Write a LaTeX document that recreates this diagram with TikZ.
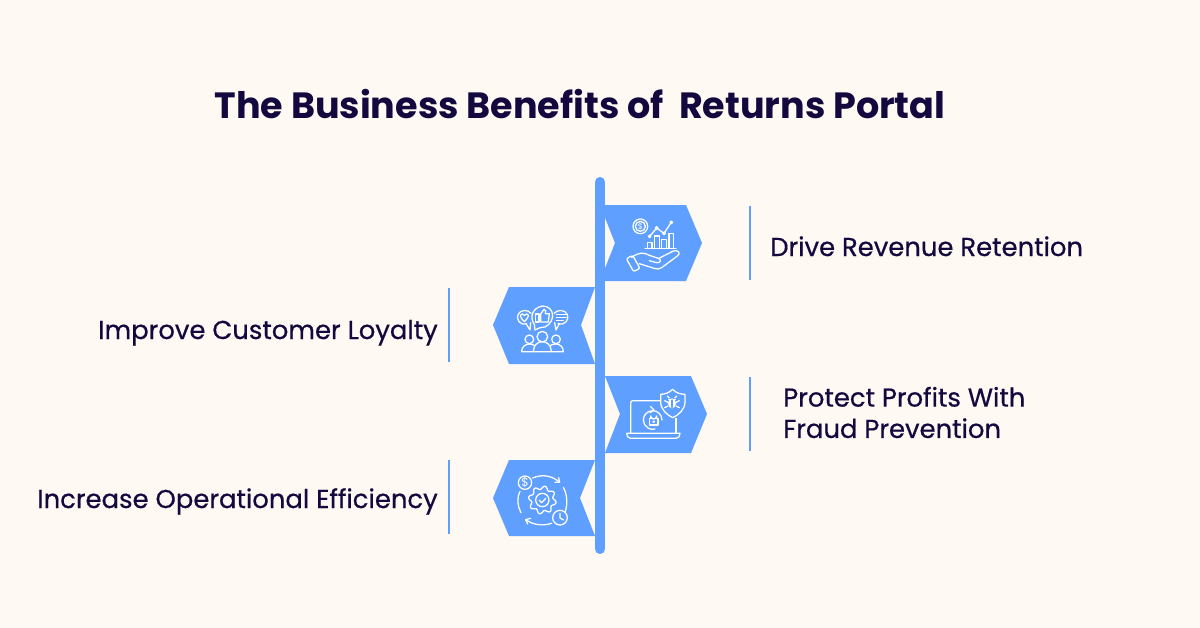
\documentclass[tikz,border=0pt]{standalone}
\usepackage{fontspec}
\setmainfont{Poppins}
\newfontfamily\labelfont{Poppins}[FakeBold=0.6]
\usetikzlibrary{positioning,arrows}
\definecolor{paper}{HTML}{FEF9F2}
\definecolor{tint}{HTML}{5F9FFF}
\definecolor{ink}{HTML}{14093F}

\begin{document}
\begin{tikzpicture}[x=0.75pt,y=-0.75pt,>=stealth']
  \tikzstyle{heading}=[text=ink,font=\fontsize{27.4}{32}\selectfont\bfseries,inner sep=0pt]
  \tikzstyle{benefit}=[text=ink,font=\labelfont\fontsize{19.4}{23.5}\selectfont,inner sep=0pt,align=left]
  \tikzstyle{flag}=[fill=tint,draw=none]
  \tikzstyle{rule}=[draw=tint,line width=2pt]
  \tikzstyle{glyph}=[draw=white,line width=0.95pt,line join=round,line cap=round]

  \useasboundingbox (0,0) rectangle (1200,628);
  \fill [paper] (0,0) rectangle (1200,628);

  \begin{scope}
    % Heading and labels
    \node [heading] (title) at (580,104) {The Business Benefits of\ \ Returns Portal};
    \node [benefit,anchor=base west] (revenue) at (770,256) {Drive Revenue Retention};
    \node [benefit,anchor=base east] (loyalty) at (438,339) {Improve Customer Loyalty};
    \node [benefit,anchor=west] (fraud) at (783,412.5) {Protect Profits With\\Fraud Prevention};
    \node [benefit,anchor=base east] (efficiency) at (438,508) {Increase Operational Efficiency};
  \end{scope}

  \begin{scope}
    % Flags and spine
    \fill [flag] (600,205) -- (686,205) -- (702,243) -- (686,281) -- (600,281) -- (615,243) -- cycle;
    \fill [flag] (595,287) -- (509,287) -- (493,325) -- (509,364) -- (595,364) -- (581,325) -- cycle;
    \fill [flag] (605,376) -- (691,376) -- (707,414) -- (691,453) -- (605,453) -- (620,414) -- cycle;
    \fill [flag] (595,460) -- (509,460) -- (493,498) -- (509,536) -- (595,536) -- (580,498) -- cycle;
    \draw [draw=tint,line width=7.5pt,line cap=round] (600,182) -- (600,549);
    \draw [rule] (750,206) -- (750,280);
    \draw [rule] (449,288) -- (449,362);
    \draw [rule] (750,377) -- (750,451);
    \draw [rule] (449,460) -- (449,534);
  \end{scope}

  % Revenue icon
  \begin{scope}[shift={(590,170)},x=0.25pt,y=-0.25pt,glyph]
    \draw (151,169) circle (22);
    \draw (151,169) circle (15);
    \node [text=white,font=\fontsize{6}{6}\selectfont,inner sep=0pt] (coin) at (151,169) {\$};
    \draw (179,199) -- (200,174) -- (222,190) -- (244,157);
    \foreach \cx/\cy in {179/199,200/174,222/190,244/157}
      \filldraw [fill=tint] (\cx,\cy) circle (4);
    \draw (165,235) -- (258,235);
    \draw (172,235) -- (172,218) -- (186,218) -- (186,235);
    \draw (193,235) -- (193,198) -- (208,198) -- (208,235);
    \draw (215,235) -- (215,208) -- (230,208) -- (230,235);
    \draw (237,235) -- (237,191) -- (250,191) -- (250,235);
    \draw [rounded corners=1.5pt] (109,266) -- (128,256) -- (150,295) -- (131,305) -- cycle;
    \draw (125,262) .. controls (145,248) and (160,245) .. (178,256) -- (205,265)
      .. controls (215,268) and (212,280) .. (200,278) -- (178,272);
    \draw (207,265) -- (250,243) .. controls (264,238) and (274,250) .. (262,258)
      -- (215,293) .. controls (208,298) and (200,298) .. (192,295) -- (148,281);
  \end{scope}

  % Loyalty icon
  \begin{scope}[shift={(480,280)},x=0.25pt,y=-0.25pt,glyph]
    \draw (163,133) .. controls (150,115) and (153,85) .. (187,78)
      .. controls (225,78) and (228,125) .. (195,141) -- (185,142)
      .. controls (178,143) and (172,146) .. (165,150) -- cycle;
    \draw (140,131) .. controls (118,138) and (108,115) .. (114,104)
      .. controls (120,88) and (145,88) .. (153,100);
    \draw (138,131) -- (150,150) -- (152,128);
    \draw (234,131) .. controls (258,138) and (268,115) .. (262,104)
      .. controls (256,88) and (232,88) .. (222,100);
    \draw (238,131) -- (228,150) -- (224,128);
    \draw (133,125) .. controls (118,112) and (120,102) .. (127,102)
      .. controls (130,102) and (132,104) .. (133,106)
      .. controls (134,104) and (137,102) .. (140,102)
      .. controls (147,102) and (148,112) .. (133,125) -- cycle;
    \draw (166,102) rectangle (177,126);
    \draw (182,102) -- (192,88) .. controls (198,88) and (198,95) .. (196,101) -- (208,101)
      -- (205,126) -- (182,126) -- cycle;
    \draw (229,103) -- (258,103);
    \draw (229,112) -- (258,112);
    \draw (229,121) -- (250,121);
    \draw (148,178) circle (13);
    \draw (187,170) circle (16);
    \draw (228,178) circle (13);
    \draw (160,215) .. controls (160,175) and (214,175) .. (214,215) -- cycle;
    \draw (160,215) -- (125,215) .. controls (125,200) and (135,193) .. (148,192)
      .. controls (155,192) and (160,194) .. (165,197);
    \draw (214,215) -- (250,215) .. controls (250,200) and (240,193) .. (228,192)
      .. controls (220,192) and (215,194) .. (210,197);
  \end{scope}

  % Fraud icon
  \begin{scope}[shift={(590,370)},x=0.25pt,y=-0.25pt,glyph]
    \draw (122,190) -- (122,100) .. controls (122,94) and (124,92) .. (130,92) -- (212,92);
    \draw (258,145) -- (258,190);
    \draw (110,190) -- (270,190) .. controls (270,198) and (266,205) .. (258,205) -- (122,205)
      .. controls (114,205) and (110,198) .. (110,190) -- cycle;
    \draw (216,150) arc (0:-285:28);
    \draw (182,110) -- (192,120) -- (180,128);
    \draw (178,145) rectangle (204,165);
    \draw (182,145) -- (182,138) arc (180:0:9) -- (200,145);
    \draw (191,155) circle (2);
    \draw [fill=tint] (248,58) .. controls (235,70) and (225,72) .. (212,73) -- (212,95)
      .. controls (212,120) and (232,135) .. (248,143)
      .. controls (265,135) and (285,120) .. (285,95) -- (285,73)
      .. controls (270,72) and (260,70) .. (248,58) -- cycle;
    \fill [white] (246,100) ellipse (12 and 15);
    \draw (236,88) -- (256,88);
    \draw (234,97) -- (224,92);
    \draw (258,97) -- (268,92);
    \draw (234,108) -- (224,113);
    \draw (258,108) -- (268,113);
    \draw (238,84) -- (232,78);
    \draw (254,84) -- (260,78);
    \draw [draw=tint] (246,90) -- (246,112);
  \end{scope}

  % Efficiency icon
  \begin{scope}[shift={(480,450)},x=0.25pt,y=-0.25pt,glyph]
    \draw (135,98) circle (20);
    \node [text=white,font=\fontsize{9}{9}\selectfont,inner sep=0pt] (cash) at (135,98) {\$};
    \draw (240,203) circle (22);
    \draw (240,190) -- (240,204) -- (251,210);
    \draw [shift={(187,150)}] plot [domain=0:360,samples=97,smooth] (\x:{37+5*sin(8*\x)}) -- cycle;
    \draw (187,150) circle (20);
    \draw (178,151) -- (185,158) -- (197,145);
    \draw (158,84) .. controls (185,72) and (215,76) .. (238,96);
    \draw (225,97) -- (239,97) -- (236,83);
    \draw (250,112) .. controls (262,135) and (263,160) .. (256,185);
    \draw (215,220) .. controls (190,228) and (160,226) .. (138,209);
    \draw (152,205) -- (137,209) -- (143,222);
    \draw (120,124) .. controls (110,145) and (112,168) .. (123,188);
  \end{scope}
\end{tikzpicture}
\end{document}
